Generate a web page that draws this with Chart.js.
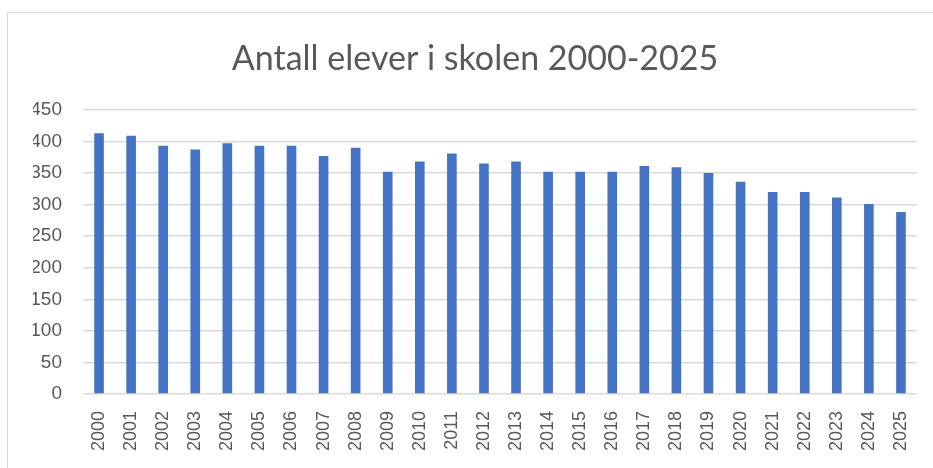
<!DOCTYPE html>
<html>
<head>
<meta charset="utf-8">
<script src="https://cdn.jsdelivr.net/npm/chart.js@4.4.1/dist/chart.umd.min.js"></script>
<style>
  body { margin: 0; background: #fff; }
  #frame { position: absolute; left: 7px; top: 12px; width: 940px; height: 470px; border: 1px solid #d9d9d9; }
  #wrap { position: absolute; left: 0; top: 0; width: 933px; height: 468px; }
</style>
</head>
<body>
<div id="frame"></div>
<div id="wrap"><canvas id="elever" width="933" height="468"></canvas></div>
<script>
// aar og antall elever lest av bildet
const years = ['2000','2001','2002','2003','2004','2005','2006','2007','2008','2009',
  '2010','2011','2012','2013','2014','2015','2016','2017','2018','2019',
  '2020','2021','2022','2023','2024','2025'];
const students = [413, 409, 393, 387, 397, 393, 393, 377, 390, 352,
  368, 381, 365, 368, 352, 352, 352, 361, 359, 350,
  336, 320, 320, 311, 301, 288];
const yTicks = [0, 50, 100, 150, 200, 250, 300, 350, 400, 450];

const grey = '#595959';

const data = {
  labels: years,
  datasets: [{
    label: 'Antall elever',
    data: students,
    backgroundColor: '#4472c4',
    borderWidth: 0,
    barPercentage: 0.6,
    categoryPercentage: 0.5
  }]
};

const config = {
  type: 'bar',
  data: data,
  options: {
    responsive: false,
    animation: false,
    layout: { padding: { left: 33, right: 16, top: 0, bottom: 0 } },
    plugins: {
      legend: { display: false },
      tooltip: { enabled: false },
      title: {
        display: true,
        text: 'Antall elever i skolen 2000-2025',
        color: grey,
        font: { family: 'Lato', size: 34, weight: 'normal' },
        padding: { top: 39, bottom: 30 }
      }
    },
    scales: {
      x: {
        afterFit: (axis) => { axis.height = 74; },
        grid: { display: false },
        border: { display: false },
        ticks: {
          color: grey,
          minRotation: 90,
          maxRotation: 90,
          padding: 9,
          font: { family: 'Liberation Sans', size: 18 }
        }
      },
      y: {
        min: 0,
        max: 450,
        afterBuildTicks: (axis) => { axis.ticks = yTicks.map(v => ({ value: v })); },
        afterFit: (axis) => { axis.width = 50; },
        grid: { color: '#d9d9d9', drawTicks: false, lineWidth: 1.5 },
        border: { display: false },
        ticks: {
          color: grey,
          padding: 21,
          font: { family: 'Liberation Sans', size: 19 }
        }
      }
    }
  }
};

var myChart = new Chart(document.getElementById('elever'), config);
</script>
</body>
</html>
